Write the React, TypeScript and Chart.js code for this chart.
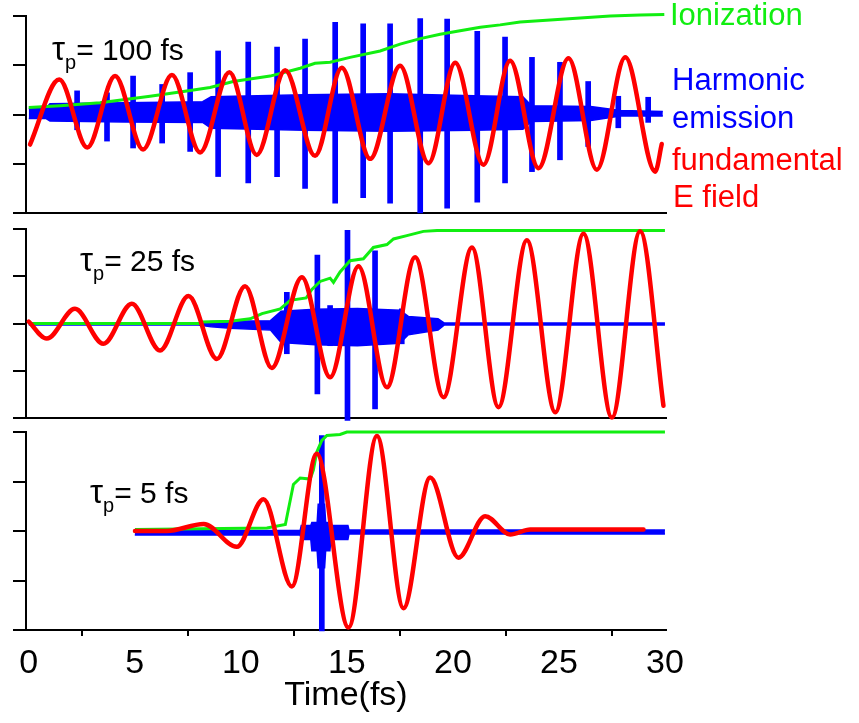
import React, { useEffect, useRef } from "react";
import { Chart, registerables } from "chart.js";

Chart.register(...registerables);

const W = 859;
const H = 723;
const X_MIN = -0.13;
const X_MAX = 30.05;
const X_TICKS = [0, 5, 10, 15, 20, 25, 30];
const Y_TICKS = [-2, -1, 0, 1, 2];

// ---------- Panel 1 : tau_p = 100 fs ----------
const P1_FIELD_T = [0.06, 1.44, 2.76, 4.07, 5.39, 6.75, 8.08, 9.46, 10.75, 12.09, 13.5, 14.76, 16.1, 17.51, 18.85, 20.11, 21.44, 22.7, 24.04, 25.45, 26.79, 28.13, 29.54, 29.85];
const P1_FIELD_V = [-0.61, 0.71, -0.67, 0.78, -0.71, 0.8, -0.77, 0.86, -0.82, 0.9, -0.84, 0.95, -0.9, 0.99, -0.99, 1.05, -1.02, 1.09, -1.09, 1.14, -1.12, 1.16, -1.16, -0.6];
const P1_ION_T = [0, 1.48, 3.36, 5.72, 7.37, 8.55, 9.64, 11.38, 12.8, 13.5, 14.21, 15.15, 16.57, 17.51, 18.46, 19.4, 20.34, 21.29, 22.23, 23.17, 24.59, 26.0, 27.42, 28.83, 29.97];
const P1_ION_V = [0.14, 0.18, 0.24, 0.37, 0.47, 0.55, 0.67, 0.78, 0.94, 1.04, 1.06, 1.16, 1.29, 1.43, 1.54, 1.63, 1.7, 1.77, 1.82, 1.88, 1.92, 1.96, 2.0, 2.02, 2.03];
const P1_BAND_T = [0, 0.8, 1.0, 4.5, 8.2, 8.6, 13.0, 17.0, 21.0, 23.3, 23.7, 26.5, 27.9, 29.9];
const P1_BAND_HI = [0.12, 0.12, 0.22, 0.24, 0.26, 0.36, 0.4, 0.42, 0.38, 0.36, 0.18, 0.16, 0.08, 0.06];
const P1_BAND_LO = [-0.08, -0.08, -0.13, -0.15, -0.16, -0.28, -0.32, -0.34, -0.32, -0.3, -0.14, -0.12, -0.03, -0.03];
const P1_BURST_T = [2.28, 3.69, 4.92, 6.29, 7.61, 8.93, 10.35, 11.71, 13.03, 14.45, 15.77, 17.04, 18.46, 19.73, 21.15, 22.46, 23.73, 25.05, 26.38, 27.8, 29.21];
const P1_BURST_HI = [0.48, 0.44, 0.78, 0.61, 0.85, 1.29, 1.47, 1.37, 1.53, 1.87, 1.84, 1.84, 1.95, 1.94, 1.69, 1.57, 1.16, 1.06, 0.67, 0.37, 0.35];
const P1_BURST_LO = [-0.31, -0.54, -0.68, -0.58, -0.75, -1.26, -1.39, -1.26, -1.5, -1.8, -1.69, -1.8, -2.0, -1.9, -1.78, -1.39, -1.16, -0.92, -0.65, -0.27, -0.16];

// ---------- Panel 2 : tau_p = 25 fs ----------
const P2_FIELD_T = [0.0, 0.85, 2.18, 3.52, 4.86, 6.19, 7.53, 8.87, 10.2, 11.46, 12.88, 14.21, 15.55, 16.89, 18.22, 19.56, 20.9, 22.15, 23.49, 24.83, 26.16, 27.5, 28.83, 29.93];
const P2_FIELD_V = [0.04, -0.32, 0.31, -0.43, 0.42, -0.57, 0.58, -0.75, 0.79, -0.94, 0.98, -1.14, 1.21, -1.35, 1.4, -1.56, 1.61, -1.77, 1.76, -1.88, 1.9, -1.99, 1.95, -1.74];
const P2_ION_T = [0, 8.08, 8.17, 9.5, 10.44, 11.0, 11.86, 12.33, 13.08, 13.35, 13.74, 14.21, 14.37, 14.68, 15.15, 15.78, 16.25, 16.89, 17.2, 17.83, 18.61, 19.25, 30.0];
const P2_ION_V = [0, 0, 0.03, 0.05, 0.1, 0.21, 0.31, 0.49, 0.54, 0.72, 0.89, 0.96, 0.87, 1.09, 1.33, 1.37, 1.61, 1.67, 1.79, 1.86, 1.95, 1.97, 1.97];
const P2_BAND_T = [0, 8.0, 8.6, 9.5, 11.4, 11.9, 13.5, 15.5, 17.5, 17.9, 19.3, 19.6, 30.0];
const P2_BAND_HI = [0.01, 0.01, 0.04, 0.05, 0.06, 0.26, 0.3, 0.32, 0.28, 0.15, 0.1, 0.01, 0.01];
const P2_BAND_LO = [-0.03, -0.03, -0.07, -0.1, -0.14, -0.4, -0.45, -0.47, -0.42, -0.24, -0.14, -0.03, -0.03];
const P2_BURST_T = [12.17, 13.61, 14.21, 15.03, 16.33, 17.59];
const P2_BURST_HI = [0.66, 1.45, 0.38, 1.97, 1.54, 0.31];
const P2_BURST_LO = [-0.64, -1.49, -0.47, -2.05, -1.81, -0.43];

// ---------- Panel 3 : tau_p = 5 fs ----------
const P3_FIELD_T = [5.01, 6.51, 8.25, 9.81, 11.07, 12.41, 13.58, 15.08, 16.42, 17.67, 18.93, 20.26, 21.52, 22.7, 23.65, 28.99];
const P3_FIELD_V = [0.0, 0.0, 0.14, -0.32, 0.64, -1.12, 1.56, -1.95, 1.92, -1.56, 1.08, -0.54, 0.3, -0.07, 0.03, 0.03];
const P3_ION_T = [5.01, 11.23, 12.1, 12.48, 12.8, 13.27, 13.42, 13.58, 13.82, 14.06, 14.68, 15.0, 30.0];
const P3_ION_V = [0.03, 0.06, 0.13, 0.94, 1.07, 1.05, 1.23, 1.59, 1.83, 1.93, 1.95, 2.0, 2.0];
const P3_BAND_T = [5.0, 12.8, 12.85, 13.3, 13.35, 13.6, 13.65, 13.95, 14.0, 14.2, 14.25, 15.05, 15.1, 30.0];
const P3_BAND_HI = [0.01, 0.01, 0.11, 0.11, 0.17, 0.17, 0.54, 0.54, 0.17, 0.17, 0.11, 0.11, 0.02, 0.02];
const P3_BAND_LO = [-0.08, -0.08, -0.17, -0.17, -0.4, -0.4, -0.74, -0.74, -0.4, -0.4, -0.17, -0.17, -0.06, -0.06];
const P3_BURST_T = [13.82];
const P3_BURST_HI = [1.93];
const P3_BURST_LO = [-2.02];

const RED = "#ff0000";
const GREEN = "#11ee11";
const BLUE = "#0000ff";
const FONT = "'Liberation Sans', Arial, Helvetica, sans-serif";

type Panel = {
  fieldT: number[]; fieldV: number[];
  ionT: number[]; ionV: number[];
  bandT: number[]; bandHi: number[]; bandLo: number[];
  burstT: number[]; burstHi: number[]; burstLo: number[];
  top: number; bottom: number; isBottom: boolean;
};

const PANELS: Panel[] = [
  { fieldT: P1_FIELD_T, fieldV: P1_FIELD_V, ionT: P1_ION_T, ionV: P1_ION_V, bandT: P1_BAND_T, bandHi: P1_BAND_HI, bandLo: P1_BAND_LO, burstT: P1_BURST_T, burstHi: P1_BURST_HI, burstLo: P1_BURST_LO, top: 16, bottom: 213, isBottom: false },
  { fieldT: P2_FIELD_T, fieldV: P2_FIELD_V, ionT: P2_ION_T, ionV: P2_ION_V, bandT: P2_BAND_T, bandHi: P2_BAND_HI, bandLo: P2_BAND_LO, burstT: P2_BURST_T, burstHi: P2_BURST_HI, burstLo: P2_BURST_LO, top: 229, bottom: 418, isBottom: false },
  { fieldT: P3_FIELD_T, fieldV: P3_FIELD_V, ionT: P3_ION_T, ionV: P3_ION_V, bandT: P3_BAND_T, bandHi: P3_BAND_HI, bandLo: P3_BAND_LO, burstT: P3_BURST_T, burstHi: P3_BURST_HI, burstLo: P3_BURST_LO, top: 432, bottom: 630, isBottom: true },
];

const pts = (t: number[], v: number[]) => t.map((x, i) => ({ x, y: v[i] }));
const bars = (t: number[], lo: number[], hi: number[]) => t.map((x, i) => ({ x, y: [lo[i], hi[i]] }));

function makeConfig(p: Panel): any {
  const bottomAxisH = H - p.bottom;
  return {
    type: "line",
    data: {
      datasets: [
        { label: "fundamental E field", data: pts(p.fieldT, p.fieldV), borderColor: RED, borderWidth: 4.5, pointRadius: 0, cubicInterpolationMode: "monotone", fill: false, clip: false, borderJoinStyle: "round", borderCapStyle: "round" },
        { label: "Ionization", data: pts(p.ionT, p.ionV), borderColor: GREEN, borderWidth: 3, pointRadius: 0, tension: 0, fill: false, clip: false },
        { type: "bar", label: "Harmonic bursts", data: bars(p.burstT, p.burstLo, p.burstHi), backgroundColor: BLUE, borderWidth: 0, barThickness: 5, grouped: false, clip: false },
        { label: "Harmonic upper", data: pts(p.bandT, p.bandHi), borderColor: BLUE, borderWidth: 1.5, pointRadius: 0, tension: 0, fill: false, clip: false },
        { label: "Harmonic lower", data: pts(p.bandT, p.bandLo), borderColor: BLUE, backgroundColor: BLUE, borderWidth: 1.5, pointRadius: 0, tension: 0, fill: "-1", clip: false },
      ],
    },
    options: {
      animation: false,
      responsive: false,
      maintainAspectRatio: false,
      events: [],
      layout: { padding: { left: 13, right: W - 666, top: p.top, bottom: p.isBottom ? 0 : bottomAxisH } },
      plugins: { legend: { display: false }, tooltip: { enabled: false }, title: { display: false } },
      scales: {
        x: {
          type: "linear",
          min: X_MIN,
          max: X_MAX,
          offset: false,
          afterBuildTicks: (s: any) => { s.ticks = X_TICKS.map((v) => ({ value: v })); },
          afterFit: (s: any) => { s.height = p.isBottom ? bottomAxisH : 0; },
          ticks: p.isBottom
            ? { display: true, color: "#000", font: { family: FONT, size: 34 }, padding: 7, maxRotation: 0, autoSkip: false }
            : { display: false },
          grid: p.isBottom
            ? { display: true, drawOnChartArea: false, drawTicks: true, tickLength: 6, color: "#000", lineWidth: 2 }
            : { display: false },
          border: { display: true, color: "#000", width: 2 },
          title: p.isBottom
            ? { display: true, text: "Time(fs)", color: "#000", font: { family: FONT, size: 34 }, padding: { top: 0, bottom: 7 } }
            : { display: false },
        },
        y: {
          type: "linear",
          min: -2,
          max: 2,
          afterBuildTicks: (s: any) => { s.ticks = Y_TICKS.map((v) => ({ value: v })); },
          afterFit: (s: any) => { s.width = 13; },
          ticks: { display: false },
          grid: { display: true, drawOnChartArea: false, drawTicks: true, tickLength: 13, color: "#000", lineWidth: 2 },
          border: { display: true, color: "#000", width: 2 },
        },
      },
    },
  };
}

function Label(props: { left: number; baseline: number; color: string; size: number; children: any }) {
  const { left, baseline, color, size, children } = props;
  return (
    <div
      style={{
        position: "absolute",
        left,
        top: baseline - Math.round(size * 0.8465),
        color,
        fontFamily: FONT,
        fontSize: size,
        lineHeight: `${size}px`,
        whiteSpace: "nowrap",
      }}
    >
      {children}
    </div>
  );
}

function Tau(props: { left: number; baseline: number; value: string }) {
  return (
    <Label left={props.left} baseline={props.baseline} color="#000" size={30}>
      <span style={{ fontSize: 33 }}>τ</span>
      <span style={{ fontSize: 20, lineHeight: "20px", position: "relative", top: 9 }}>p</span>= {props.value} fs
    </Label>
  );
}

export default function App() {
  const r1 = useRef<HTMLCanvasElement>(null);
  const r2 = useRef<HTMLCanvasElement>(null);
  const r3 = useRef<HTMLCanvasElement>(null);

  useEffect(() => {
    const refs = [r1, r2, r3];
    const charts = refs.map((r, i) => new Chart(r.current as HTMLCanvasElement, makeConfig(PANELS[i])));
    return () => charts.forEach((c) => c.destroy());
  }, []);

  const canvasStyle: any = { position: "absolute", left: 0, top: 0, width: W, height: H };

  return (
    <div style={{ position: "absolute", left: 0, top: 0, width: W, height: H, background: "#fff", overflow: "hidden" }}>
      <canvas ref={r1} width={W} height={H} style={canvasStyle} />
      <canvas ref={r2} width={W} height={H} style={canvasStyle} />
      <canvas ref={r3} width={W} height={H} style={canvasStyle} />

      <Tau left={52} baseline={59} value="100" />
      <Tau left={80} baseline={270} value="25" />
      <Tau left={90} baseline={502} value="5" />

      <Label left={670} baseline={25} color={GREEN} size={31}>Ionization</Label>
      <Label left={672} baseline={90} color={BLUE} size={31}>Harmonic</Label>
      <Label left={672} baseline={128} color={BLUE} size={31}>emission</Label>
      <Label left={672} baseline={170} color={RED} size={31}>fundamental</Label>
      <Label left={673} baseline={207} color={RED} size={31}>E field</Label>
    </div>
  );
}
